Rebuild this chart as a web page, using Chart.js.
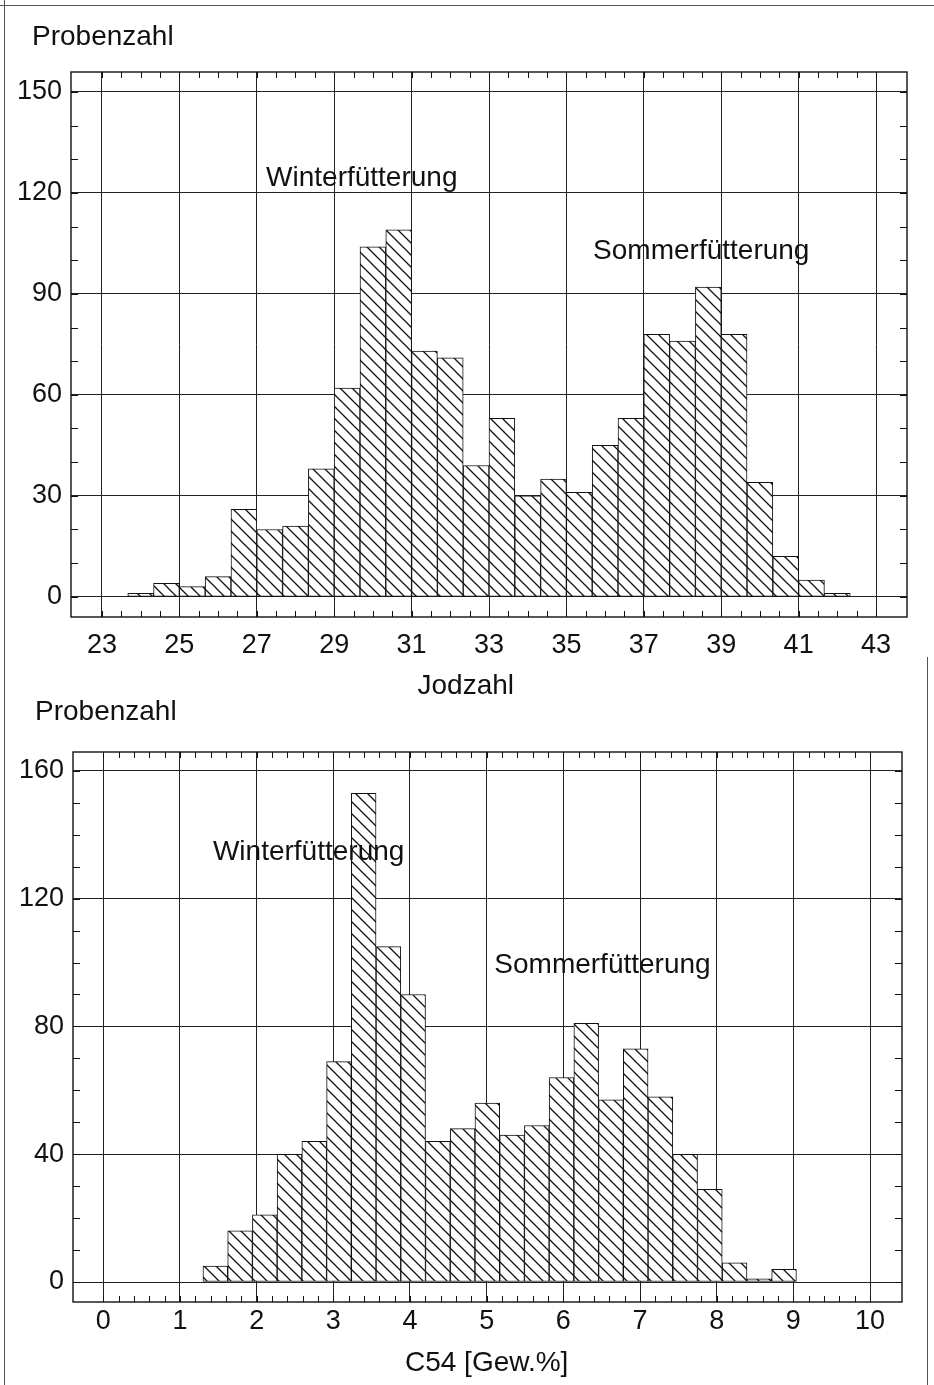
<!DOCTYPE html>
<html>
<head>
<meta charset="utf-8">
<title>Probenzahl – Jodzahl / C54</title>
<script src="https://cdn.jsdelivr.net/npm/chart.js@4.4.1/dist/chart.umd.min.js"></script>
<style>
  html, body { margin: 0; padding: 0; background: #fff; }
  #blatt { position: relative; width: 934px; height: 1385px; overflow: hidden; background: #fff; }
  #c1 { position: absolute; left: 0; top: 0; }
  #c2 { position: absolute; left: 0; top: 690px; }
  .rand { position: absolute; background: #555; }
</style>
</head>
<body>
<div id="blatt">
  <div class="rand" style="left:4px;top:0;width:1px;height:1385px"></div>
  <div class="rand" style="left:0;top:5px;width:934px;height:1px"></div>
  <div class="rand" style="left:927px;top:657px;width:1px;height:728px"></div>
  <canvas id="c1" width="934" height="710"></canvas>
  <canvas id="c2" width="934" height="695"></canvas>
</div>
<script>
// Histogramm 1: Jodzahl (Klassenbreite 2/3)
const jodBinStart = 23 + 2 / 3;
const jodBinWidth = 2 / 3;
const jodCounts = [1, 4, 3, 6, 26, 20, 21, 38, 62, 104, 109, 73, 71, 39,
                   53, 30, 35, 31, 45, 53, 78, 76, 92, 78, 34, 12, 5, 1];
const jodXTicks = [23, 25, 27, 29, 31, 33, 35, 37, 39, 41, 43];
const jodYTicks = [0, 30, 60, 90, 120, 150];

// Histogramm 2: C54 [Gew.%]
const c54BinStart = 1.30;
const c54BinWidth = 0.3225;
const c54Counts = [5, 16, 21, 40, 44, 69, 153, 105, 90, 44, 48, 56,
                   46, 49, 64, 81, 57, 73, 58, 40, 29, 6, 1, 4];
const c54XTicks = [0, 1, 2, 3, 4, 5, 6, 7, 8, 9, 10];
const c54YTicks = [0, 40, 80, 120, 160];

const FONT = "'Liberation Sans', Arial, Helvetica, sans-serif";
const INK = '#111';

function binPoints(start, width, counts) {
  return counts.map((n, i) => ({ x: start + (i + 0.5) * width, y: n }));
}

function schraffur(ctx) {
  const s = 12;
  const tile = document.createElement('canvas');
  tile.width = s; tile.height = s;
  const g = tile.getContext('2d');
  g.fillStyle = '#fff';
  g.fillRect(0, 0, s, s);
  g.strokeStyle = INK;
  g.lineWidth = 1.3;
  g.beginPath();
  g.moveTo(-1, -1); g.lineTo(s + 1, s + 1);
  g.moveTo(-1, s - 1); g.lineTo(1, s + 1);
  g.moveTo(s - 1, -1); g.lineTo(s + 1, 1);
  g.stroke();
  return ctx.createPattern(tile, 'repeat');
}

function histogramm(cfg) {
  const canvas = document.getElementById(cfg.id);
  const ctx = canvas.getContext('2d');

  // Rahmen + kleine Teilstriche
  const rahmen = {
    id: 'rahmen',
    afterDatasetsDraw(chart) {
      const { ctx, chartArea: a, scales: { x, y } } = chart;
      ctx.save();
      ctx.strokeStyle = INK;
      ctx.lineWidth = 1.4;
      ctx.strokeRect(a.left, a.top, a.right - a.left, a.bottom - a.top);
      ctx.lineWidth = 1;
      ctx.beginPath();
      const [xf, xt, xs] = cfg.xMinor;
      for (let i = 0; xf + i * xs <= xt + 1e-9; i++) {
        const px = Math.round(x.getPixelForValue(xf + i * xs)) + 0.5;
        ctx.moveTo(px, a.bottom); ctx.lineTo(px, a.bottom - 6);
        ctx.moveTo(px, a.top); ctx.lineTo(px, a.top + 6);
      }
      const [yf, yt, ys] = cfg.yMinor;
      for (let i = 0; yf + i * ys <= yt + 1e-9; i++) {
        const py = Math.round(y.getPixelForValue(yf + i * ys)) + 0.5;
        ctx.moveTo(a.left, py); ctx.lineTo(a.left + 7, py);
        ctx.moveTo(a.right, py); ctx.lineTo(a.right - 7, py);
      }
      ctx.stroke();
      ctx.restore();
    }
  };

  // Beschriftungen
  const texte = {
    id: 'texte',
    afterDraw(chart) {
      const { ctx, scales: { x, y } } = chart;
      ctx.save();
      ctx.fillStyle = INK;
      ctx.font = '28px ' + FONT;
      ctx.textBaseline = 'alphabetic';
      ctx.textAlign = 'left';
      ctx.fillText('Probenzahl', cfg.yTitle[0], cfg.yTitle[1]);
      ctx.textAlign = 'center';
      ctx.fillText(cfg.xTitle.text, x.getPixelForValue(cfg.xTitle.at), cfg.xTitle.base);
      ctx.textAlign = 'left';
      cfg.notes.forEach(n => ctx.fillText(n.text, x.getPixelForValue(n.x), y.getPixelForValue(n.y)));
      ctx.restore();
    }
  };

  const tickFont = { family: FONT, size: 27 };

  return new Chart(canvas, {
    type: 'bar',
    data: {
      datasets: [{
        data: binPoints(cfg.binStart, cfg.binWidth, cfg.counts),
        backgroundColor: schraffur(ctx),
        borderColor: INK,
        borderWidth: 1,
        borderSkipped: false,
        barPercentage: 1,
        categoryPercentage: 1
      }]
    },
    options: {
      responsive: false,
      animation: false,
      events: [],
      layout: { padding: { top: cfg.area.top, right: canvas.width - cfg.area.right, left: 0, bottom: 0 } },
      plugins: { legend: { display: false }, tooltip: { enabled: false } },
      scales: {
        x: {
          type: 'linear',
          offset: false,
          min: cfg.xMin,
          max: cfg.xMax,
          afterBuildTicks: s => { s.ticks = cfg.xTicks.map(v => ({ value: v })); },
          afterFit: s => { s.height = canvas.height - cfg.area.bottom; },
          grid: { offset: false, color: '#222', lineWidth: 1, drawTicks: false },
          border: { display: false },
          ticks: { color: INK, font: tickFont, padding: cfg.xPad, autoSkip: false, maxRotation: 0 }
        },
        y: {
          min: cfg.yMin,
          max: cfg.yMax,
          afterBuildTicks: s => { s.ticks = cfg.yTicks.map(v => ({ value: v })); },
          afterFit: s => { s.width = cfg.area.left; },
          grid: { color: '#222', lineWidth: 1, drawTicks: false },
          border: { display: false },
          ticks: { color: INK, font: tickFont, padding: 9 }
        }
      }
    },
    plugins: [rahmen, texte]
  });
}

histogramm({
  id: 'c1',
  area: { left: 71, right: 907, top: 72, bottom: 617 },
  xMin: 22.2, xMax: 43.8, yMin: -6, yMax: 155.9,
  binStart: jodBinStart, binWidth: jodBinWidth, counts: jodCounts,
  xTicks: jodXTicks, yTicks: jodYTicks,
  xMinor: [23, 43, 0.5], yMinor: [0, 150, 10],
  xPad: 12,
  yTitle: [32, 45],
  xTitle: { text: 'Jodzahl', at: 32.4, base: 694 },
  notes: [
    { text: 'Winterfütterung', x: 27.24, y: 122 },
    { text: 'Sommerfütterung', x: 35.69, y: 100.4 }
  ]
});

histogramm({
  id: 'c2',
  area: { left: 73, right: 902, top: 62, bottom: 612 },
  xMin: -0.395, xMax: 10.417, yMin: -6.26, yMax: 165.9,
  binStart: c54BinStart, binWidth: c54BinWidth, counts: c54Counts,
  xTicks: c54XTicks, yTicks: c54YTicks,
  xMinor: [0, 10, 0.2], yMinor: [0, 160, 10],
  xPad: 3,
  yTitle: [35, 30],
  xTitle: { text: 'C54 [Gew.%]', at: 5, base: 681 },
  notes: [
    { text: 'Winterfütterung', x: 1.43, y: 132 },
    { text: 'Sommerfütterung', x: 5.10, y: 96.6 }
  ]
});
</script>
</body>
</html>
